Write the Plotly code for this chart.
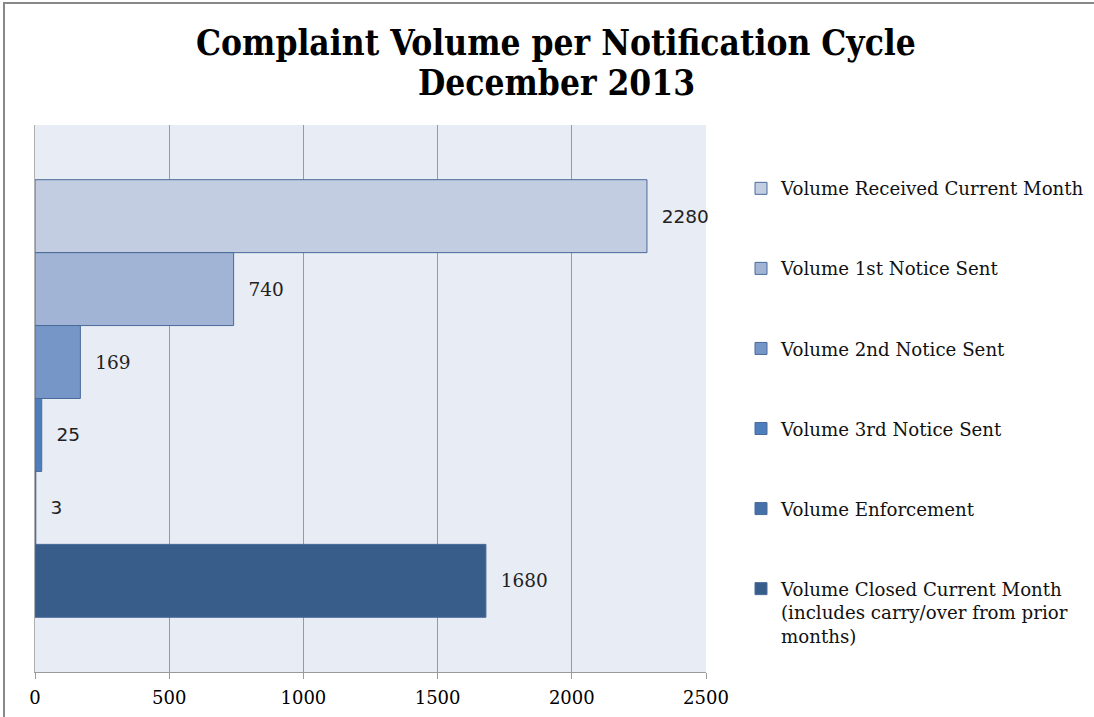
import plotly.graph_objects as go

series_names = [
    "Volume Received Current Month",
    "Volume 1st Notice Sent",
    "Volume 2nd Notice Sent",
    "Volume 3rd Notice Sent",
    "Volume Enforcement",
    "Volume Closed Current Month<br>(includes carry/over from prior<br>months)",
]
values = [2280, 740, 169, 25, 3, 1680]
colors = ["#C2CDE1", "#A1B4D5", "#7596C6", "#4F7EBC", "#4570A8", "#385D8A"]
label_fonts = ["DejaVu Sans", "DejaVu Serif", "DejaVu Serif", "DejaVu Sans", "DejaVu Sans", "DejaVu Serif"]
category = ["Dec 2013"]
x_ticks = [0, 500, 1000, 1500, 2000, 2500]
title_lines = ["Complaint Volume per Notification Cycle", "December 2013"]

fig = go.Figure()
for i, (name, v, c, f) in enumerate(zip(series_names, values, colors, label_fonts)):
    fig.add_trace(go.Bar(
        name=name, y=category, x=[v], orientation="h",
        marker=dict(color=c, line=dict(color="#4A6A9A", width=1)),
        text=[v], texttemplate="  %{x}", textposition="outside",
        textfont=dict(family=f, size=18.5, color="#222222"),
        cliponaxis=False, constraintext="none",
        legendgroup=f"g{i}",
    ))

W, H = 1094, 717
L, R, T, B = 35, 388, 125, 45
pw, ph = W - L - R, H - T - B

def px_x(p):
    return (p - L) / pw

def px_y(p):
    return (H - B - p) / ph

title_font = dict(family="DejaVu Serif Condensed, DejaVu Serif", size=35, color="black")

fig.update_layout(
    width=W, height=H,
    margin=dict(l=L, r=R, t=T, b=B, autoexpand=False),
    paper_bgcolor="white", plot_bgcolor="#E8ECF4",
    barmode="group", bargap=0.2, bargroupgap=0,
    xaxis=dict(range=[0, 2500], tickvals=x_ticks, showgrid=True, gridcolor="#9A9A9A", gridwidth=1,
               zeroline=False, showline=True, linecolor="#9A9A9A", ticks="outside", ticklen=6,
               tickcolor="#9A9A9A", ticklabelstandoff=3,
               tickfont=dict(family="DejaVu Serif", size=18, color="black")),
    yaxis=dict(autorange="reversed", showticklabels=False, showgrid=False, showline=True,
               linecolor="#B0B0B0", linewidth=1, zeroline=False),
    legend=dict(x=px_x(741), xanchor="left", y=px_y(170), yanchor="top",
                font=dict(family="DejaVu Serif", size=18.2, color="#111111"),
                tracegroupgap=53.4, valign="top", itemwidth=30, bgcolor="rgba(0,0,0,0)"),
    showlegend=True,
    annotations=[
        dict(text=f"<b>{title_lines[0]}</b>", xref="paper", yref="paper", x=px_x(556), y=px_y(43),
             xanchor="center", yanchor="middle", showarrow=False, font=title_font),
        dict(text=f"<b>{title_lines[1]}</b>", xref="paper", yref="paper", x=px_x(556), y=px_y(82),
             xanchor="center", yanchor="middle", showarrow=False, font=title_font),
    ],
    shapes=[
        dict(type="line", xref="paper", yref="paper", x0=px_x(3), x1=px_x(1094), y0=px_y(3), y1=px_y(3),
             line=dict(color="#888888", width=2)),
        dict(type="line", xref="paper", yref="paper", x0=px_x(4), x1=px_x(4), y0=px_y(3), y1=px_y(717),
             line=dict(color="#888888", width=2)),
    ],
)

fig.write_html("out.html", config={"displayModeBar": False},
               post_script="document.body.style.margin='0';document.body.style.overflow='hidden';")
